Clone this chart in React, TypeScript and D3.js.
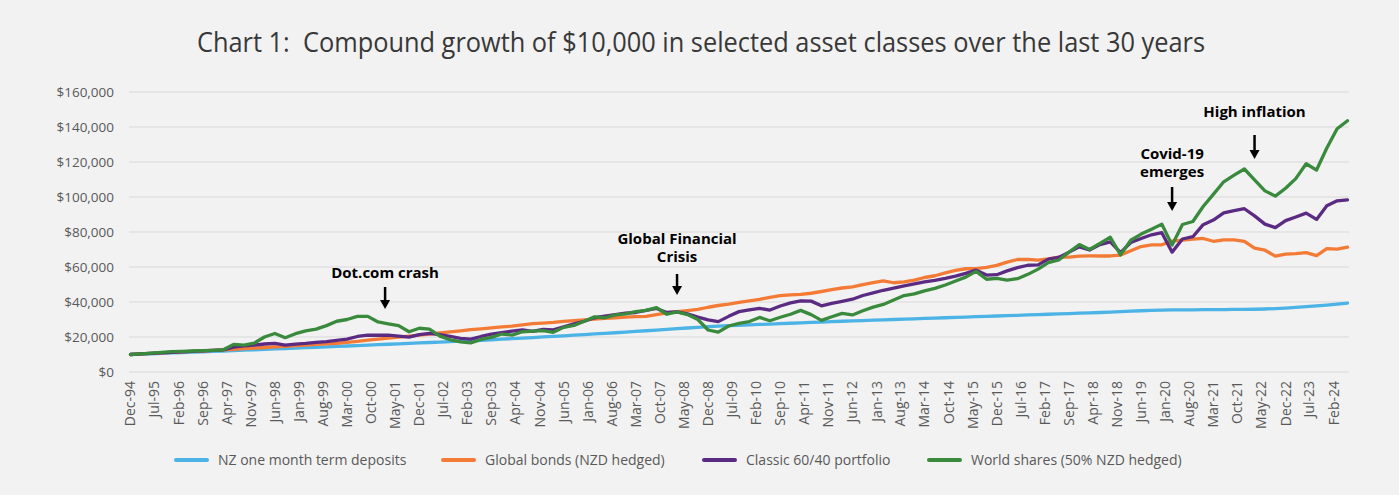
import React from "react";
import * as d3 from "d3";

// quarterly observations, Dec-94 .. Jun-24
const quarters = [
  "Dec-94",
  "Mar-95", "Jun-95", "Sep-95", "Dec-95",
  "Mar-96", "Jun-96", "Sep-96", "Dec-96",
  "Mar-97", "Jun-97", "Sep-97", "Dec-97",
  "Mar-98", "Jun-98", "Sep-98", "Dec-98",
  "Mar-99", "Jun-99", "Sep-99", "Dec-99",
  "Mar-00", "Jun-00", "Sep-00", "Dec-00",
  "Mar-01", "Jun-01", "Sep-01", "Dec-01",
  "Mar-02", "Jun-02", "Sep-02", "Dec-02",
  "Mar-03", "Jun-03", "Sep-03", "Dec-03",
  "Mar-04", "Jun-04", "Sep-04", "Dec-04",
  "Mar-05", "Jun-05", "Sep-05", "Dec-05",
  "Mar-06", "Jun-06", "Sep-06", "Dec-06",
  "Mar-07", "Jun-07", "Sep-07", "Dec-07",
  "Mar-08", "Jun-08", "Sep-08", "Dec-08",
  "Mar-09", "Jun-09", "Sep-09", "Dec-09",
  "Mar-10", "Jun-10", "Sep-10", "Dec-10",
  "Mar-11", "Jun-11", "Sep-11", "Dec-11",
  "Mar-12", "Jun-12", "Sep-12", "Dec-12",
  "Mar-13", "Jun-13", "Sep-13", "Dec-13",
  "Mar-14", "Jun-14", "Sep-14", "Dec-14",
  "Mar-15", "Jun-15", "Sep-15", "Dec-15",
  "Mar-16", "Jun-16", "Sep-16", "Dec-16",
  "Mar-17", "Jun-17", "Sep-17", "Dec-17",
  "Mar-18", "Jun-18", "Sep-18", "Dec-18",
  "Mar-19", "Jun-19", "Sep-19", "Dec-19",
  "Mar-20", "Jun-20", "Sep-20", "Dec-20",
  "Mar-21", "Jun-21", "Sep-21", "Dec-21",
  "Mar-22", "Jun-22", "Sep-22", "Dec-22",
  "Mar-23", "Jun-23", "Sep-23", "Dec-23",
  "Mar-24", "Jun-24",
];

const termDeposits = [
  10000,
  10220, 10440, 10660, 10880,
  11100, 11330, 11550, 11770,
  12000, 12240, 12470, 12710,
  12950, 13190, 13420, 13660,
  13900, 14140, 14380, 14620,
  14860, 15100, 15350, 15600,
  15850, 16100, 16350, 16600,
  16860, 17110, 17360, 17610,
  17860, 18120, 18420, 18730,
  19050, 19370, 19690, 20020,
  20350, 20690, 21030, 21380,
  21730, 22080, 22430, 22800,
  23180, 23560, 23950, 24340,
  24740, 25140, 25530, 25900,
  26200, 26450, 26700, 26940,
  27170, 27400, 27630, 27860,
  28090, 28320, 28550, 28780,
  29000, 29200, 29400, 29600,
  29800, 30000, 30200, 30400,
  30600, 30800, 31000, 31200,
  31400, 31600, 31800, 32000,
  32200, 32400, 32600, 32800,
  33000, 33200, 33400, 33600,
  33800, 34000, 34250, 34500,
  34750, 35000, 35200, 35350,
  35450, 35500, 35550, 35600,
  35650, 35700, 35750, 35800,
  35850, 36000, 36250, 36550,
  36900, 37300, 37750, 38250,
  38800, 39400,
];

const globalBonds = [
  10000,
  10300, 10650, 10950, 11250,
  11500, 11750, 12000, 12300,
  12650, 13000, 13300, 13650,
  14000, 14350, 14700, 15050,
  15400, 15750, 16100, 16300,
  16900, 17500, 18200, 18800,
  19300, 19900, 20500, 21100,
  21700, 22300, 22900, 23500,
  24200, 24700, 25200, 25800,
  26200, 26900, 27600, 27900,
  28300, 28900, 29400, 29800,
  30200, 30600, 31000, 31400,
  31600, 31800, 32800, 33800,
  34500, 35100, 35800, 37000,
  38000, 38800, 39800, 40600,
  41500, 42700, 43600, 44100,
  44300, 45000, 46000, 47100,
  48000, 48700, 49900, 51100,
  52100, 51000, 51500, 52500,
  54000, 55000, 56600, 58100,
  59000, 59100, 59800, 60900,
  62800, 64300, 64300, 63900,
  64700, 65700, 65700, 66200,
  66300, 66300, 66300, 66800,
  69300, 71700, 72600, 72700,
  74800, 75300, 75900, 76300,
  74700, 75500, 75500, 74700,
  70800, 69600, 66200, 67300,
  67600, 68200, 66500, 70500,
  70200, 71300,
];

const classic6040 = [
  10000,
  10300, 10650, 10950, 11250,
  11550, 11800, 12050, 12350,
  12650, 14200, 14900, 15300,
  16000, 16400, 15300, 15900,
  16300, 16900, 17400, 18100,
  18800, 20300, 21100, 21000,
  21100, 20500, 19900, 21300,
  22100, 21300, 20300, 19200,
  18800, 20300, 21600, 22500,
  23300, 24000, 23200, 24400,
  24100, 25800, 27500, 29000,
  31000, 31900, 32800, 33700,
  34000, 35200, 36300, 34000,
  34400, 33200, 31400, 29800,
  28800, 31800, 34500, 35500,
  36400, 35400, 37700, 39500,
  40700, 40500, 37800, 39200,
  40400, 41600, 43700, 45200,
  46700, 47900, 49200, 50300,
  51500, 52400, 53500, 54800,
  56400, 58200, 55400, 55600,
  57800, 59600, 61000, 61200,
  64500, 65500, 68500, 71500,
  69700, 72800, 74400, 68200,
  74000, 76300, 78400, 79600,
  68500, 76000, 77300, 84200,
  86800, 90900, 92200, 93300,
  89200, 84500, 82500, 86500,
  88600, 90800, 87200, 95000,
  97800, 98300,
];

const worldShares = [
  10000,
  10400, 10800, 11200, 11600,
  11800, 12000, 12200, 12400,
  12700, 15800, 15300, 16500,
  20000, 22000, 19600, 21900,
  23500, 24500, 26500, 29000,
  30000, 31800, 31800, 28600,
  27500, 26500, 23000, 25000,
  24500, 20500, 18400, 17200,
  16600, 18600, 19800, 21700,
  21100, 23000, 23300, 23600,
  22700, 25500, 26600, 29000,
  31500, 31000, 32600, 33200,
  34500, 35200, 36800, 33000,
  34300, 32800, 30000, 24000,
  22800, 26300, 27800, 28800,
  31200, 29300, 31300, 33000,
  35200, 32800, 29500, 31600,
  33500, 32600, 35000, 37100,
  38600, 41100, 43700, 44600,
  46400, 47800, 49700, 52000,
  54200, 57500, 53000, 53500,
  52500, 53300, 55800, 58800,
  62500, 64000, 68500, 72800,
  70000, 73500, 77000, 66900,
  75300, 78800, 81600, 84500,
  72600, 84300, 86000, 94600,
  101500, 108700, 112500, 116000,
  109800, 103500, 100500, 105000,
  110500, 119000, 115400, 128000,
  139000, 143600,
];

const xTickLabels = [
  "Dec-94", "Jul-95", "Feb-96", "Sep-96", "Apr-97", "Nov-97", "Jun-98", "Jan-99",
  "Aug-99", "Mar-00", "Oct-00", "May-01", "Dec-01", "Jul-02", "Feb-03", "Sep-03",
  "Apr-04", "Nov-04", "Jun-05", "Jan-06", "Aug-06", "Mar-07", "Oct-07", "May-08",
  "Dec-08", "Jul-09", "Feb-10", "Sep-10", "Apr-11", "Nov-11", "Jun-12", "Jan-13",
  "Aug-13", "Mar-14", "Oct-14", "May-15", "Dec-15", "Jul-16", "Feb-17", "Sep-17",
  "Apr-18", "Nov-18", "Jun-19", "Jan-20", "Aug-20", "Mar-21", "Oct-21", "May-22",
  "Dec-22", "Jul-23", "Feb-24",
];

const yTicks = [0, 20000, 40000, 60000, 80000, 100000, 120000, 140000, 160000];

const seriesNames = [
  "NZ one month term deposits",
  "Global bonds (NZD hedged)",
  "Classic 60/40 portfolio",
  "World shares (50% NZD hedged)",
];
const seriesValues = [termDeposits, globalBonds, classic6040, worldShares];
const seriesColors = ["#4cb3e6", "#f47b35", "#5b2a82", "#3a8a3d"];

const annotations = [
  { lines: ["Dot.com crash"], at: "Feb-01", textY: 278, arrowTop: 287, arrowBottom: 309 },
  { lines: ["Global Financial", "Crisis"], at: "Mar-08", textY: 262, arrowTop: 274, arrowBottom: 295 },
  { lines: ["Covid-19", "emerges"], at: "Mar-20", textY: 177, arrowTop: 187, arrowBottom: 211 },
  { lines: ["High inflation"], at: "Mar-22", textY: 117, arrowTop: 135, arrowBottom: 159 },
];

const title = "Chart 1:  Compound growth of $10,000 in selected asset classes over the last 30 years";

const W = 1399;
const H = 495;
const FONT = "'Open Sans', 'Noto Sans', sans-serif";

export default function App() {
  const parse = d3.timeParse("%b-%y");
  const dates = quarters.map((q) => parse(q) as Date);

  const x = d3.scaleTime()
    .domain([dates[0], dates[dates.length - 1]])
    .range([130.5, 1347.5]);
  const y = d3.scaleLinear().domain([0, 160000]).range([372, 92]);

  const line = d3.line<number>()
    .x((_, i) => x(dates[i]))
    .y((d) => y(d));

  const fmt = d3.format("$,");

  const legendX = [176, 443, 704, 929];

  return (
    <svg width={W} height={H} style={{ position: "absolute", left: 0, top: 0 }} fontFamily={FONT}>
      <rect width={W} height={H} fill="#f2f2f2" />

      <text x={701} y={52} textAnchor="middle" fontSize={26.5} fill="#383838"
        textLength={1008} lengthAdjust="spacingAndGlyphs" style={{ whiteSpace: "pre" }}>
        {title}
      </text>

      {/* gridlines + y labels */}
      {yTicks.map((t) => (
        <g key={t}>
          <line x1={129} x2={1349} y1={y(t)} y2={y(t)} stroke="#d9d9d9" strokeWidth={1} />
          <text x={114} y={y(t)} dy="0.35em" textAnchor="end" fontSize={13.5} fill="#595959">
            {fmt(t)}
          </text>
        </g>
      ))}

      {/* x labels */}
      {xTickLabels.map((l) => {
        const px = x(parse(l) as Date);
        return (
          <text key={l} transform={`translate(${px},381) rotate(-90)`} dy="0.35em"
            textAnchor="end" fontSize={14} fill="#595959">
            {l}
          </text>
        );
      })}

      {/* series */}
      {seriesValues.map((vals, i) => (
        <path key={seriesNames[i]} d={line(vals) || ""} fill="none" stroke={seriesColors[i]}
          strokeWidth={3.3} strokeLinejoin="round" strokeLinecap="round" />
      ))}

      {/* annotations */}
      {annotations.map((a) => {
        const ax = x(parse(a.at) as Date);
        return (
          <g key={a.lines[0]}>
            {a.lines.map((t, j) => (
              <text key={t} x={ax} y={a.textY - (a.lines.length - 1 - j) * 18.5} textAnchor="middle"
                fontSize={15} fontWeight="bold" fill="#000">
                {t}
              </text>
            ))}
            <line x1={ax} x2={ax} y1={a.arrowTop} y2={a.arrowBottom - 7} stroke="#000" strokeWidth={2.5} />
            <path d={`M${ax - 5},${a.arrowBottom - 9}L${ax + 5},${a.arrowBottom - 9}L${ax},${a.arrowBottom}Z`} fill="#000" />
          </g>
        );
      })}

      {/* legend */}
      {seriesNames.map((n, i) => (
        <g key={n} transform={`translate(${legendX[i]},460)`}>
          <line x1={0} x2={31} y1={0} y2={0} stroke={seriesColors[i]} strokeWidth={4} strokeLinecap="round" />
          <text x={42} y={0} dy="0.35em" fontSize={14} fill="#595959">{n}</text>
        </g>
      ))}
    </svg>
  );
}
